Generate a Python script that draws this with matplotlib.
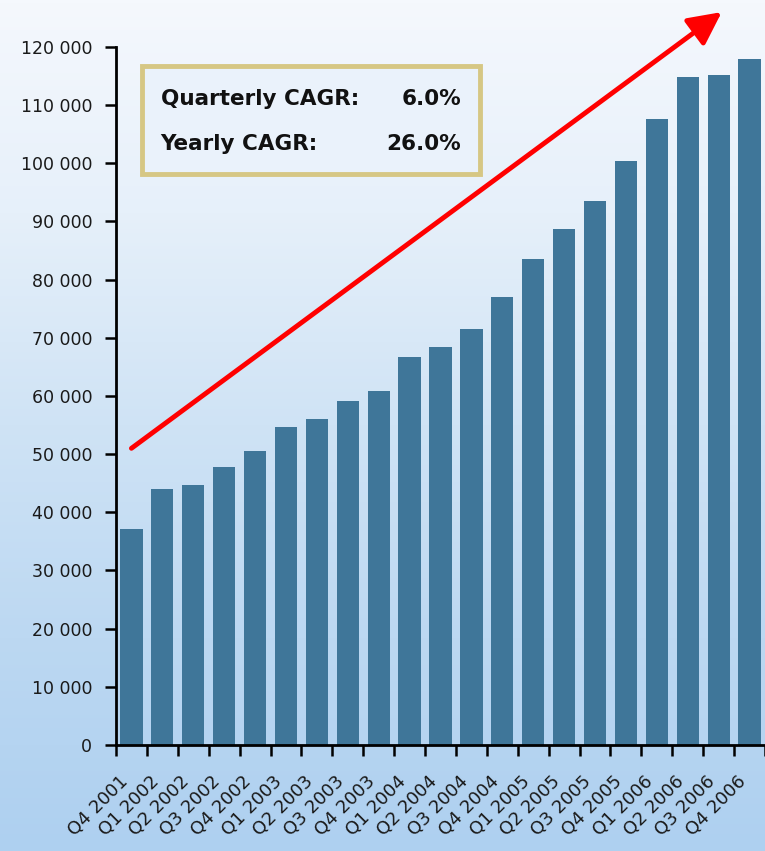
import matplotlib.pyplot as plt
import numpy as np
from matplotlib.colors import LinearSegmentedColormap

quarters = ["Q4 2001", "Q1 2002", "Q2 2002", "Q3 2002", "Q4 2002",
            "Q1 2003", "Q2 2003", "Q3 2003", "Q4 2003",
            "Q1 2004", "Q2 2004", "Q3 2004", "Q4 2004",
            "Q1 2005", "Q2 2005", "Q3 2005", "Q4 2005",
            "Q1 2006", "Q2 2006", "Q3 2006", "Q4 2006"]
values = [37100, 44000, 44700, 47800, 50500,
          54700, 56000, 59100, 60900,
          66700, 68400, 71500, 77000,
          83500, 88700, 93500, 100400,
          107600, 114800, 115200, 117900]
y_ticks = list(range(0, 120001, 10000))
cagr_labels = ["Quarterly CAGR:", "Yearly CAGR:"]
cagr_values = ["6.0%", "26.0%"]

# trend arrow, start and end in data units
arrow_start = (0.0, 51000)
arrow_end = (19.1, 126000)

plt.rcParams["font.family"] = ["DejaVu Sans"]

fig = plt.figure(figsize=(7.65, 8.51), dpi=100)

# background gradient
bg = fig.add_axes([0, 0, 1, 1], zorder=-10)
bg_cmap = LinearSegmentedColormap.from_list(
    "bg", ["#f5f8fd", "#e6f0fa", "#cfe3f5", "#bcd8f2", "#aed0f0"])
grad = np.linspace(0, 1, 256).reshape(-1, 1)
bg.imshow(grad, aspect="auto", cmap=bg_cmap, extent=[0, 1, 0, 1], origin="upper")
bg.set_axis_off()

ax = fig.add_axes([0.1516, 0.1246, 0.8484, 0.8202])
ax.patch.set_alpha(0)

x = np.arange(len(quarters))
ax.bar(x, values, width=0.72, color="#3f7699", zorder=2)

ax.set_xlim(-0.5, len(quarters) - 0.5)
ax.set_ylim(0, 120000)
ax.set_yticks(y_ticks)
ax.set_yticklabels([f"{v:,}".replace(",", " ") for v in y_ticks], fontsize=12.5,
                   color="#1a1a1a")

ax.set_xticks(np.arange(-0.5, len(quarters), 1.0), minor=False)
ax.set_xticklabels([])
ax.set_xticks(x, minor=True)
ax.set_xticklabels(quarters, minor=True, rotation=45, ha="right", va="top",
                   fontsize=13, color="#1a1a1a")
ax.tick_params(axis="x", which="minor", length=0, pad=20)
ax.tick_params(axis="x", which="major", length=8, width=1.8, direction="out")
ax.tick_params(axis="y", length=8, width=1.8, direction="out", pad=9)

for side in ["top", "right"]:
    ax.spines[side].set_visible(False)
ax.spines["left"].set_linewidth(2)
ax.spines["bottom"].set_linewidth(2)

ax.annotate("", xy=arrow_end, xytext=arrow_start, xycoords="data",
            annotation_clip=False, zorder=5,
            arrowprops=dict(arrowstyle="-|>,head_length=2.0,head_width=1.0",
                            color="#ff0000", lw=3.5, shrinkA=0, shrinkB=0))

# CAGR box
box = plt.Rectangle((0.185, 0.795), 0.443, 0.127, transform=fig.transFigure,
                    facecolor="#eaf2fb", edgecolor="#d6c784", lw=3.5, zorder=3)
fig.add_artist(box)
for i, (lab, val) in enumerate(zip(cagr_labels, cagr_values)):
    yy = 0.884 - i * 0.053
    fig.text(0.210, yy, lab, fontsize=15.5, fontweight="bold", va="center",
             ha="left", color="#111111", zorder=4)
    fig.text(0.603, yy, val, fontsize=15.5, fontweight="bold", va="center",
             ha="right", color="#111111", zorder=4)

fig.savefig("out.png", dpi=100)
